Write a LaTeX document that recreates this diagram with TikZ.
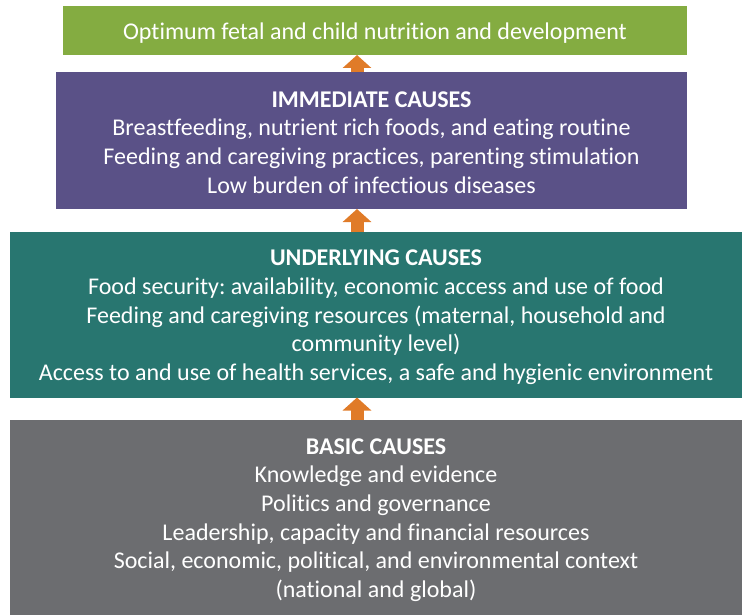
\documentclass[tikz,border=0pt]{standalone}
\usepackage{fontspec}
\setmainfont{Carlito}[Ligatures={NoCommon}]
\usetikzlibrary{arrows.meta}
\frenchspacing
\definecolor{cgreen}{HTML}{84AC41}
\definecolor{cpurple}{HTML}{5A5187}
\definecolor{cteal}{HTML}{287670}
\definecolor{cgray}{HTML}{6C6D70}
\definecolor{corange}{HTML}{E07B28}
\tikzset{
  box/.style={rectangle, inner sep=0pt, outer sep=0pt, anchor=north west},
  txt/.style={inner sep=0pt, text=white, align=center,
    font=\fontsize{24}{28.7}\selectfont},
  uparrow/.style={draw=corange, line width=13pt,
    -{Triangle[width=28pt,length=13pt]}, shorten >=0pt}
}
\begin{document}
\begin{tikzpicture}[x=1pt,y=1pt]
\useasboundingbox (0,0) rectangle (743,-615);
\node[box, fill=cgreen, minimum width=624pt, minimum height=49pt] (grn) at (63,-6) {};
\node[txt] (grnt) at ([yshift=-2.5pt]grn.center)
  {Optimum fetal and child nutrition and development};
\node[box, fill=cpurple, minimum width=631pt, minimum height=137pt] (imm) at (56,-72) {};
\node[txt] (immt) at ([yshift=-2pt]imm.center)
  {\textbf{IMMEDIATE CAUSES}\\Breastfeeding, nutrient rich foods, and eating routine\\
   Feeding and caregiving practices, parenting stimulation\\Low burden of infectious diseases};
\node[box, fill=cteal, minimum width=732pt, minimum height=165.5pt] (und) at (10,-232) {};
\node[txt] (undt) at ([yshift=-2.5pt]und.center)
  {\textbf{UNDERLYING CAUSES}\\Food security: availability, economic access and use of food\\
   Feeding and caregiving resources (maternal, household and\\community level)\\
   Access to and use of health services, a safe and hygienic environment};
\node[box, fill=cgray, minimum width=732pt, minimum height=195pt] (bas) at (10,-420) {};
\node[txt] (bast) at ([yshift=-2.5pt]bas.center)
  {\textbf{BASIC CAUSES}\\Knowledge and evidence\\Politics and governance\\
   Leadership, capacity and financial resources\\
   Social, economic, political, and environmental context\\(national and global)};
\coordinate (ax) at (357,0);
\draw[uparrow] (imm.north -| ax) -- (grn.south -| ax);
\draw[uparrow] (und.north -| ax) -- (imm.south -| ax);
\draw[uparrow] (bas.north -| ax) -- (und.south -| ax);
\end{tikzpicture}
\end{document}
